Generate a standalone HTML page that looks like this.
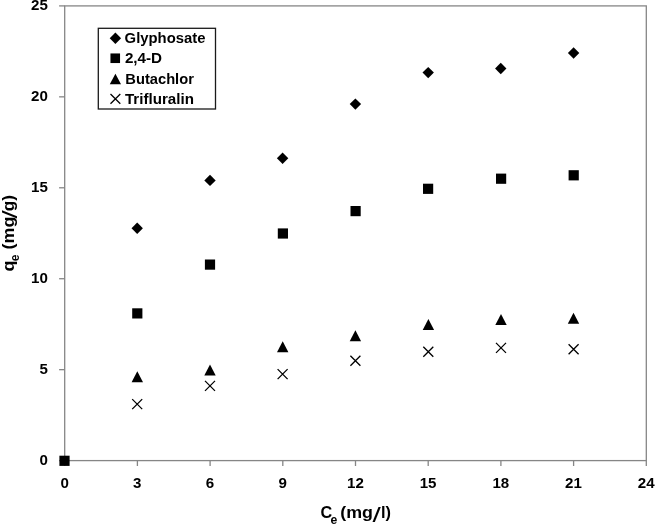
<!DOCTYPE html>
<html lang="en">
<head>
<meta charset="utf-8">
<title>Adsorption isotherms</title>
<style>
html,body{margin:0;padding:0;background:#fff;}
body{width:655px;height:524px;overflow:hidden;}
svg{display:block;}
text{font-family:"Liberation Sans",Arial,sans-serif;font-weight:bold;fill:#000;}
</style>
</head>
<body>
<svg width="655" height="524" viewBox="0 0 655 524">
<rect x="0" y="0" width="655" height="524" fill="#ffffff"/>

<g stroke="#868686" stroke-width="1.3" fill="none">
<rect x="64.7" y="5.9" width="581.60" height="454.70"/>
<line x1="64.70" y1="460.6" x2="64.70" y2="466.00"/>
<line x1="137.40" y1="460.6" x2="137.40" y2="466.00"/>
<line x1="210.10" y1="460.6" x2="210.10" y2="466.00"/>
<line x1="282.80" y1="460.6" x2="282.80" y2="466.00"/>
<line x1="355.50" y1="460.6" x2="355.50" y2="466.00"/>
<line x1="428.20" y1="460.6" x2="428.20" y2="466.00"/>
<line x1="500.90" y1="460.6" x2="500.90" y2="466.00"/>
<line x1="573.60" y1="460.6" x2="573.60" y2="466.00"/>
<line x1="646.30" y1="460.6" x2="646.30" y2="466.00"/>
<line x1="59.10" y1="460.60" x2="64.7" y2="460.60"/>
<line x1="59.10" y1="369.66" x2="64.7" y2="369.66"/>
<line x1="59.10" y1="278.72" x2="64.7" y2="278.72"/>
<line x1="59.10" y1="187.78" x2="64.7" y2="187.78"/>
<line x1="59.10" y1="96.84" x2="64.7" y2="96.84"/>
<line x1="59.10" y1="5.90" x2="64.7" y2="5.90"/>
</g>
<g font-size="15.1">
<text x="47.9" y="465.10" text-anchor="end">0</text>
<text x="47.9" y="374.16" text-anchor="end">5</text>
<text x="47.9" y="283.22" text-anchor="end">10</text>
<text x="47.9" y="192.28" text-anchor="end">15</text>
<text x="47.9" y="101.34" text-anchor="end">20</text>
<text x="47.9" y="10.40" text-anchor="end">25</text>
<text x="64.60" y="487.5" text-anchor="middle">0</text>
<text x="137.30" y="487.5" text-anchor="middle">3</text>
<text x="210.00" y="487.5" text-anchor="middle">6</text>
<text x="282.70" y="487.5" text-anchor="middle">9</text>
<text x="355.40" y="487.5" text-anchor="middle">12</text>
<text x="428.10" y="487.5" text-anchor="middle">15</text>
<text x="500.80" y="487.5" text-anchor="middle">18</text>
<text x="573.50" y="487.5" text-anchor="middle">21</text>
<text x="646.20" y="487.5" text-anchor="middle">24</text>
</g>
<g fill="#000">
<polygon points="137.20,222.60 142.90,228.30 137.20,234.00 131.50,228.30"/>
<polygon points="210.00,174.70 215.70,180.40 210.00,186.10 204.30,180.40"/>
<polygon points="282.60,152.50 288.30,158.20 282.60,163.90 276.90,158.20"/>
<polygon points="355.40,98.40 361.10,104.10 355.40,109.80 349.70,104.10"/>
<polygon points="428.20,66.90 433.90,72.60 428.20,78.30 422.50,72.60"/>
<polygon points="500.75,62.80 506.45,68.50 500.75,74.20 495.05,68.50"/>
<polygon points="573.60,47.30 579.30,53.00 573.60,58.70 567.90,53.00"/>
<rect x="59.40" y="455.70" width="10.2" height="10.2"/>
<rect x="132.20" y="308.30" width="10.2" height="10.2"/>
<rect x="204.90" y="259.50" width="10.2" height="10.2"/>
<rect x="277.80" y="228.40" width="10.2" height="10.2"/>
<rect x="350.50" y="206.00" width="10.2" height="10.2"/>
<rect x="423.00" y="183.70" width="10.2" height="10.2"/>
<rect x="496.00" y="173.60" width="10.2" height="10.2"/>
<rect x="568.60" y="170.20" width="10.2" height="10.2"/>
<polygon points="137.30,371.30 143.00,382.30 131.60,382.30"/>
<polygon points="210.00,364.40 215.70,375.40 204.30,375.40"/>
<polygon points="282.70,341.20 288.40,352.20 277.00,352.20"/>
<polygon points="355.40,330.30 361.10,341.30 349.70,341.30"/>
<polygon points="428.40,319.00 434.10,330.00 422.70,330.00"/>
<polygon points="501.00,314.00 506.70,325.00 495.30,325.00"/>
<polygon points="573.50,312.70 579.20,323.70 567.80,323.70"/>
</g>
<g stroke="#000" stroke-width="1.3" fill="none">
<path d="M132.20 399.10L142.20 409.10M132.20 409.10L142.20 399.10"/>
<path d="M205.00 380.90L215.00 390.90M205.00 390.90L215.00 380.90"/>
<path d="M277.60 369.10L287.60 379.10M277.60 379.10L287.60 369.10"/>
<path d="M350.40 355.80L360.40 365.80M350.40 365.80L360.40 355.80"/>
<path d="M423.30 346.80L433.30 356.80M423.30 356.80L433.30 346.80"/>
<path d="M496.00 342.90L506.00 352.90M496.00 352.90L506.00 342.90"/>
<path d="M568.60 344.30L578.60 354.30M568.60 354.30L578.60 344.30"/>
</g>
<rect x="98.3" y="28.3" width="117.2" height="80.7" fill="#fff" stroke="#1a1a1a" stroke-width="1.3"/>
<g fill="#000"><polygon points="115.40,32.50 121.10,38.20 115.40,43.90 109.70,38.20"/><rect x="110.45" y="53.45" width="9.6" height="9.6"/><polygon points="115.40,73.70 121.00,84.20 109.80,84.20"/></g>
<g stroke="#000" stroke-width="1.3" fill="none"><path d="M110.50 94.00L120.30 103.80M110.50 103.80L120.30 94.00"/></g>
<g font-size="15.1">
<text x="124.6" y="42.8" textLength="80.8" lengthAdjust="spacingAndGlyphs">Glyphosate</text>
<text x="124.9" y="62.8" textLength="37.2" lengthAdjust="spacingAndGlyphs">2,4-D</text>
<text x="125.3" y="83.6" textLength="68.6" lengthAdjust="spacingAndGlyphs">Butachlor</text>
<text x="124.9" y="103.8" textLength="69" lengthAdjust="spacingAndGlyphs">Trifluralin</text>
</g>
<text font-size="16.2" y="518.4"><tspan x="320.4">C</tspan><tspan x="330.6" dy="5.6" font-size="12.2">e</tspan> <tspan x="340.2" dy="-5.6" textLength="32.7" lengthAdjust="spacingAndGlyphs">(mg</tspan><tspan x="372.4" dy="3.1" font-size="20.5" font-weight="normal" textLength="8.3" lengthAdjust="spacingAndGlyphs">/</tspan><tspan x="381.0" dy="-3.1" textLength="10.0" lengthAdjust="spacingAndGlyphs">l)</tspan></text>
<text font-size="16.2" y="0" transform="translate(13.6 270.8) rotate(-90)"><tspan x="-0.7" textLength="10.9" lengthAdjust="spacingAndGlyphs">q</tspan><tspan x="9.5" dy="5.6" font-size="12.2">e</tspan> <tspan x="21.4" dy="-5.6" textLength="32.7" lengthAdjust="spacingAndGlyphs">(mg</tspan><tspan x="52.2" dy="3.1" font-size="20.5" font-weight="normal" textLength="8.3" lengthAdjust="spacingAndGlyphs">/</tspan><tspan x="59.6" dy="-3.1" textLength="16.3" lengthAdjust="spacingAndGlyphs">g)</tspan></text>
</svg>
</body>
</html>
